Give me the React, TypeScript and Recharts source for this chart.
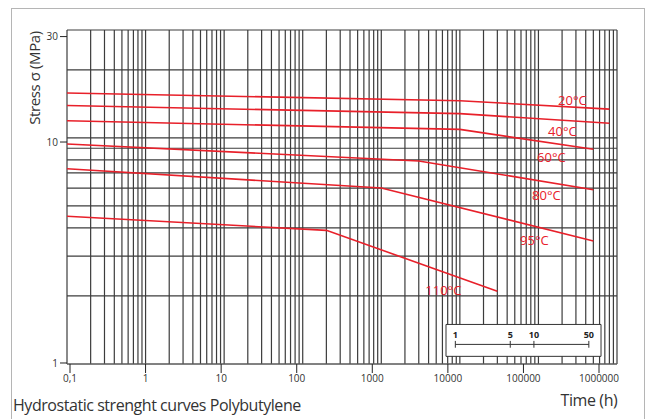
import React from 'react';
import {
  LineChart,
  Line,
  XAxis,
  YAxis,
  CartesianGrid,
  ReferenceArea,
  ReferenceLine,
} from 'recharts';

// time axis labels (hours) and stress axis labels (MPa)
const timeTicks = [0.1, 1, 10, 100, 1000, 10000, 100000, 1000000];
const stressTicks = [1, 10, 30];

// log-paper grid lines
const timeGrid = [
  0.1, 0.2, 0.3, 0.4, 0.5, 0.6, 0.7, 0.8, 0.9,
  1, 2, 3, 4, 5, 6, 7, 8, 9,
  10, 20, 30, 40, 50, 60, 70, 80, 90,
  100, 200, 300, 400, 500, 600, 700, 800, 900,
  1000, 2000, 3000, 4000, 5000, 6000, 7000, 8000, 9000,
  10000, 20000, 30000, 40000, 50000, 60000, 70000, 80000, 90000,
  100000, 200000, 300000, 400000, 500000, 600000, 700000, 800000, 900000,
  1000000,
];
const stressGrid = [1, 2, 3, 4, 5, 6, 7, 8, 9, 10, 20, 30];

// regression curves: t = hours, s = stress in MPa
const curve20 = [{ t: 0.1, s: 15.8 }, { t: 10000, s: 14.6 }, { t: 800000, s: 13.4 }];
const curve40 = [{ t: 0.1, s: 13.9 }, { t: 10000, s: 12.8 }, { t: 800000, s: 11.6 }];
const curve60 = [{ t: 0.1, s: 11.9 }, { t: 10000, s: 10.9 }, { t: 500000, s: 8.9 }];
const curve80 = [{ t: 0.1, s: 9.4 }, { t: 3000, s: 7.9 }, { t: 500000, s: 5.9 }];
const curve95 = [{ t: 0.1, s: 7.3 }, { t: 1000, s: 6.0 }, { t: 500000, s: 3.5 }];
const curve110 = [{ t: 0.1, s: 4.5 }, { t: 200, s: 3.9 }, { t: 30000, s: 2.1 }];

// service life scale in years
const years = [1, 5, 10, 50];
const HOURS_PER_YEAR = 8760;

const RED = '#e8202a';
const FONT = '"Open Sans", "Noto Sans", sans-serif';

const series = [
  { name: '20°C', data: curve20, dx: -37, dy: -9 },
  { name: '40°C', data: curve40, dx: -47, dy: 8 },
  { name: '60°C', data: curve60, dx: -42, dy: 8 },
  { name: '80°C', data: curve80, dx: -47, dy: 6 },
  { name: '95°C', data: curve95, dx: -59, dy: -1 },
  { name: '110°C', data: curve110, dx: -54, dy: -1 },
];

const tickRows = timeTicks.map((t) => ({ t }));
const fmtTime = (v: number) => String(v).replace('.', ',');

export default function App() {
  return (
    <div style={{ position: 'absolute', left: 0, top: 0, width: 653, height: 419, background: '#fff', overflow: 'hidden' }}>
      <div
        style={{
          position: 'absolute',
          left: 11,
          top: 8,
          width: 632,
          height: 430,
          border: '1px solid #b5b5b5',
        }}
      />
      <div style={{ position: 'absolute', left: 0, top: 0 }}>
        <LineChart width={653} height={419} data={tickRows} margin={{ top: 30, right: 36, left: 0, bottom: 0 }}>
          <XAxis
            xAxisId="time"
            dataKey="t"
            type="number"
            scale="log"
            domain={[0.09126, 1730000]}
            ticks={timeTicks}
            interval={0}
            tickFormatter={fmtTime}
            allowDataOverflow
            height={55}
            tickSize={9}
            tickMargin={2}
            axisLine={{ stroke: '#666' }}
            tickLine={{ stroke: '#222' }}
            tick={{ fontSize: 10, fill: '#333', fontFamily: FONT }}
            label={(p: any) => (
              <text x={589} y={406} textAnchor="middle" fontSize={16} letterSpacing={-0.4} fill="#333" fontFamily={FONT}>
                Time (h)
              </text>
            )}
          />
          <YAxis
            yAxisId="stress"
            type="number"
            scale="log"
            domain={[0.9896, 32.13]}
            ticks={stressTicks}
            interval={0}
            allowDataOverflow
            width={67}
            tickSize={7}
            tickMargin={2}
            axisLine={false}
            tickLine={{ stroke: '#222' }}
            tick={{ fontSize: 10, fill: '#333', fontFamily: FONT }}
            label={(p: any) => (
              <text
                x={0}
                y={0}
                transform="translate(40,78) rotate(-90)"
                textAnchor="middle"
                fontSize={15}
                letterSpacing={-0.4}
                fill="#333"
                fontFamily={FONT}
              >
                Stress σ (MPa)
              </text>
            )}
          />
          <XAxis
            xAxisId="grid"
            dataKey="t"
            type="number"
            scale="log"
            domain={[0.1, 1000000]}
            ticks={timeGrid}
            interval={0}
            allowDataOverflow
            height={0}
            hide
          />
          <YAxis
            yAxisId="grid"
            dataKey="s"
            type="number"
            scale="log"
            domain={[1, 30]}
            ticks={stressGrid}
            interval={0}
            allowDataOverflow
            width={0}
            hide
          />
          <CartesianGrid
            xAxisId="grid"
            yAxisId="grid"
            stroke="#3c3c3c"
            strokeWidth={1.2}
          />
          <ReferenceArea
            xAxisId="grid"
            yAxisId="grid"
            x1={6664}
            x2={626000}
            y1={1.081}
            y2={1.496}
            fill="#fff"
            fillOpacity={1}
            stroke="#333"
            strokeWidth={1}
          />
          <ReferenceLine
            xAxisId="grid"
            yAxisId="grid"
            segment={[
              { x: years[0] * HOURS_PER_YEAR, y: 1.221 },
              { x: years[years.length - 1] * HOURS_PER_YEAR, y: 1.221 },
            ]}
            stroke="#333"
            strokeWidth={1}
          />
          {years.map((yr) => (
            <ReferenceLine
              key={yr}
              xAxisId="grid"
              yAxisId="grid"
              segment={[
                { x: yr * HOURS_PER_YEAR, y: 1.18 },
                { x: yr * HOURS_PER_YEAR, y: 1.265 },
              ]}
              stroke="#333"
              strokeWidth={1}
              label={{ value: String(yr), position: 'top', offset: 3, fontSize: 9, fontWeight: 'bold', fill: '#222', fontFamily: FONT }}
            />
          ))}
          {series.map((sr) => (
            <Line
              key={sr.name}
              xAxisId="grid"
              yAxisId="grid"
              data={sr.data}
              dataKey="s"
              type="linear"
              stroke={RED}
              strokeWidth={1.6}
              dot={false}
              isAnimationActive={false}
              label={(p: any) =>
                p.index === sr.data.length - 1 ? (
                  <text
                    key={sr.name}
                    x={p.x + sr.dx}
                    y={p.y + sr.dy}
                    dy="0.35em"
                    textAnchor="middle"
                    fontSize={13}
                    fill={RED}
                    fontFamily={FONT}
                  >
                    {sr.name}
                  </text>
                ) : (
                  <g key={p.index} />
                )
              }
            />
          ))}
        </LineChart>
      </div>
      <div
        style={{
          position: 'absolute',
          left: 13,
          top: 394,
          fontSize: 16,
          letterSpacing: -0.45,
          color: '#333',
          fontFamily: FONT,
          whiteSpace: 'nowrap',
        }}
      >
        Hydrostatic strenght curves Polybutylene
      </div>
    </div>
  );
}
